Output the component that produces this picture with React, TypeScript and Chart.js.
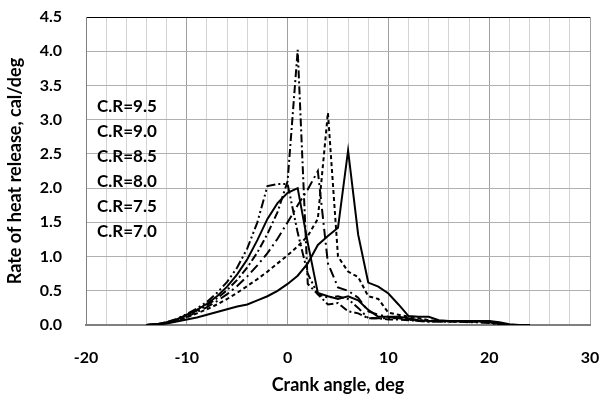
import React, { useEffect, useRef } from "react";
import { Chart, registerables } from "chart.js";

Chart.register(...registerables);

const angles = [-14, -13, -12, -11, -10, -9, -8, -7, -6, -5, -4, -3, -2, -1, 0, 1, 2, 3, 4, 5, 6, 7, 8, 9, 10, 11, 12, 13, 14, 15, 16, 17, 18, 19, 20, 21, 22, 23, 24];

const cr95 = [0, 0.01, 0.04, 0.09, 0.16, 0.24, 0.34, 0.47, 0.63, 0.84, 1.12, 1.5, 2.03, 2.06, 2.06, 1.35, 0.75, 0.45, 0.4, 0.42, 0.38, 0.25, 0.1, 0.1, 0.1, 0.1, 0.08, 0.06, 0.05, 0.05, 0.05, 0.05, 0.04, 0.04, 0.03, 0.01, 0, 0, 0];
const cr90 = [0, 0.01, 0.04, 0.08, 0.15, 0.22, 0.31, 0.42, 0.56, 0.74, 0.96, 1.24, 1.55, 1.78, 1.93, 2.0, 1.2, 0.47, 0.42, 0.38, 0.42, 0.36, 0.22, 0.12, 0.12, 0.12, 0.1, 0.07, 0.06, 0.06, 0.06, 0.05, 0.05, 0.05, 0.05, 0.02, 0, 0, 0];
const cr85 = [0, 0.01, 0.03, 0.08, 0.14, 0.21, 0.29, 0.39, 0.51, 0.66, 0.84, 1.06, 1.33, 1.65, 2.1, 4.02, 0.6, 0.45, 0.3, 0.32, 0.2, 0.17, 0.1, 0.1, 0.08, 0.08, 0.07, 0.06, 0.05, 0.05, 0.05, 0.05, 0.05, 0.04, 0.04, 0.01, 0, 0, 0];
const cr80 = [0, 0.01, 0.03, 0.07, 0.12, 0.19, 0.26, 0.35, 0.45, 0.57, 0.71, 0.87, 1.05, 1.26, 1.5, 1.75, 1.98, 2.25, 0.9, 0.55, 0.5, 0.4, 0.2, 0.15, 0.12, 0.1, 0.08, 0.07, 0.06, 0.05, 0.05, 0.05, 0.05, 0.05, 0.04, 0.01, 0, 0, 0];
const cr75 = [0, 0.01, 0.03, 0.06, 0.11, 0.17, 0.23, 0.3, 0.38, 0.47, 0.57, 0.67, 0.78, 0.9, 1.02, 1.15, 1.3, 1.55, 3.1, 1.0, 0.78, 0.7, 0.42, 0.38, 0.18, 0.15, 0.12, 0.1, 0.07, 0.06, 0.06, 0.06, 0.05, 0.05, 0.05, 0.03, 0, 0, 0];
const cr70 = [0, 0.01, 0.02, 0.05, 0.08, 0.11, 0.15, 0.19, 0.23, 0.27, 0.3, 0.36, 0.42, 0.5, 0.6, 0.72, 0.9, 1.17, 1.3, 1.42, 2.55, 1.32, 0.62, 0.56, 0.46, 0.3, 0.13, 0.12, 0.12, 0.07, 0.06, 0.06, 0.06, 0.06, 0.06, 0.04, 0.01, 0, 0];

const seriesNames = ["C.R=9.5", "C.R=9.0", "C.R=8.5", "C.R=8.0", "C.R=7.5", "C.R=7.0"];
const legendLabels = ["C.R=9.5", "C.R=9.0", "C.R=8.5", "C.R=8.0", "C.R=7.5", "C.R=7.0"];

const FONT = "Lato, 'DejaVu Sans', sans-serif";

export default function App() {
  const ref = useRef<HTMLCanvasElement | null>(null);

  useEffect(() => {
    if (!ref.current) return;
    const series = [cr95, cr90, cr85, cr80, cr75, cr70];
    const dashes: number[][] = [
      [9, 3, 2, 3, 2, 3],
      [],
      [8, 3, 2, 3],
      [10, 4, 2, 4],
      [4, 3],
      [],
    ];
    const labelPlugin = {
      id: "crLabels",
      afterDatasetsDraw(chart: any) {
        const { ctx, chartArea } = chart;
        ctx.save();
        ctx.fillStyle = "#000";
        ctx.font = `bold 17px ${FONT}`;
        ctx.textAlign = "left";
        ctx.textBaseline = "middle";
        legendLabels.forEach((t, i) => {
          ctx.fillText(t, chartArea.left + 11, chartArea.top + 90 + i * 25);
        });
        ctx.restore();
      },
    };
    const chart = new Chart(ref.current, {
      type: "line",
      data: {
        datasets: series.map((vals, i) => ({
          label: seriesNames[i],
          data: angles.map((a, j) => ({ x: a, y: vals[j] })),
          borderColor: "#000",
          borderWidth: 2,
          borderDash: dashes[i],
          pointRadius: 0,
          fill: false,
          tension: 0,
        })),
      },
      options: {
        animation: false,
        responsive: false,
        maintainAspectRatio: false,
        layout: { padding: { left: 0, top: 17, right: 9, bottom: 0 } },
        plugins: {
          legend: { display: false },
          tooltip: { enabled: false },
        },
        scales: {
          x: {
            type: "linear",
            min: -20,
            max: 30,
            afterFit: (s: any) => {
              s.height = 75;
              s.paddingLeft = 0;
              s.paddingRight = 0;
            },
            ticks: {
              stepSize: 2,
              autoSkip: false,
              maxRotation: 0,
              padding: 23,
              color: "#000",
              font: { family: FONT, size: 16, weight: "bold" },
              callback: (v: any) => (Number(v) % 10 === 0 ? String(v) : ""),
            },
            grid: {
              drawTicks: false,
              color: (c: any) => (c.tick && c.tick.value % 10 === 0 ? "#a0a0a0" : "#d4d4d4"),
              lineWidth: 1,
            },
            border: { color: "#808080", width: 2 },
            title: {
              display: true,
              text: "Crank angle, deg",
              color: "#000",
              font: { family: FONT, size: 18, weight: "bold" },
              padding: { top: 0, bottom: 4 },
            },
          },
          y: {
            min: 0,
            max: 4.5,
            afterFit: (s: any) => {
              s.width = 86;
              s.paddingTop = 0;
              s.paddingBottom = 0;
            },
            ticks: {
              stepSize: 0.5,
              padding: 24,
              color: "#000",
              font: { family: FONT, size: 16, weight: "bold" },
              callback: (v: any) => Number(v).toFixed(1),
            },
            grid: {
              drawTicks: false,
              color: (c: any) => (c.tick && Math.abs(c.tick.value - 4.5) < 1e-6 ? "#000" : "#b0b0b0"),
              lineWidth: 1,
            },
            border: { color: "#808080", width: 1 },
            title: {
              display: true,
              text: "Rate of heat release, cal/deg",
              color: "#000",
              font: { family: FONT, size: 18, weight: "bold" },
              padding: { top: 4, bottom: 0 },
            },
          },
        },
      },
      plugins: [labelPlugin],
    });
    return () => chart.destroy();
  }, []);

  return (
    <div style={{ position: "fixed", left: 0, top: 0, width: 599, height: 400, background: "#fff" }}>
      <canvas ref={ref} width={599} height={400} style={{ width: 599, height: 400, display: "block" }} />
    </div>
  );
}
